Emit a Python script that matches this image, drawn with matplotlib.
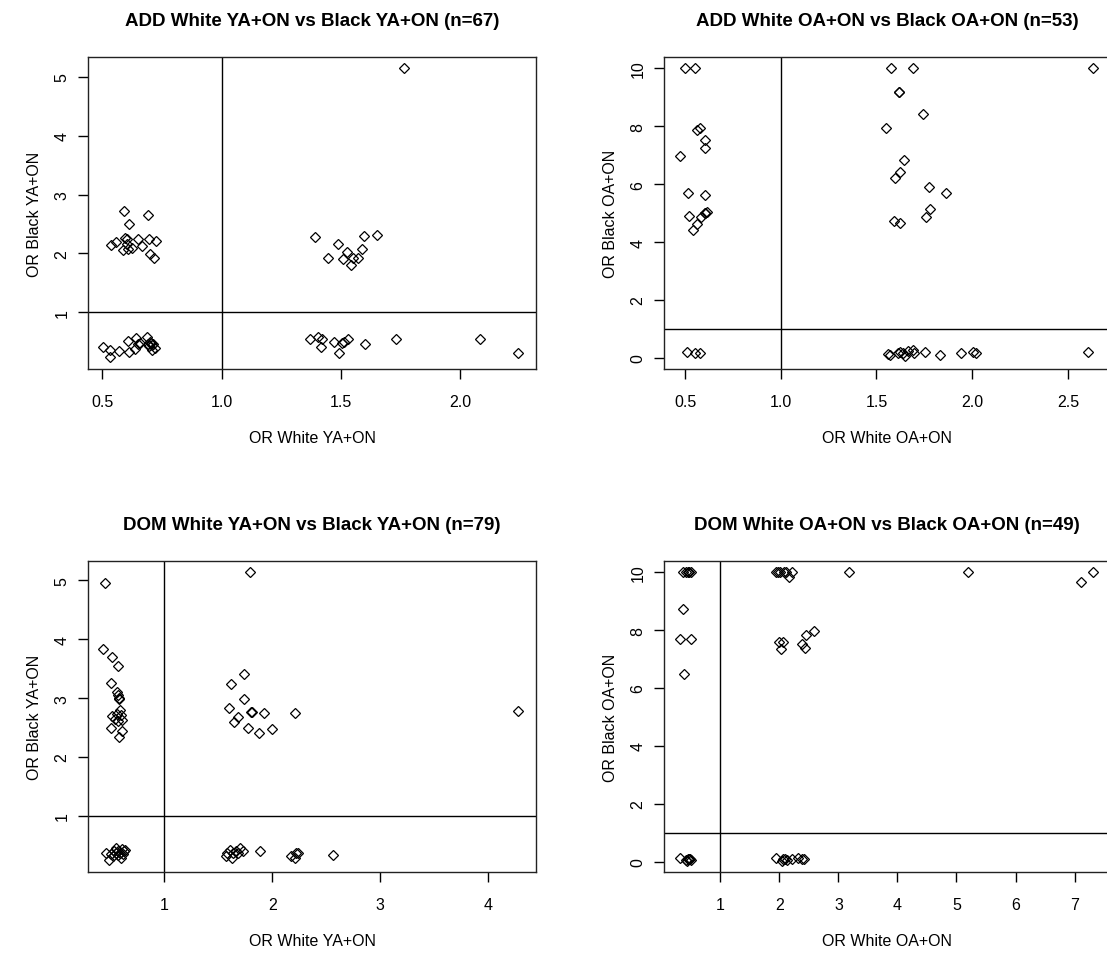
import numpy as np
import matplotlib
matplotlib.use("Agg")
import matplotlib.pyplot as plt

plt.rcParams['font.family'] = ['Liberation Sans', 'DejaVu Sans']

# ---- ADD, YA+ON (n=67) ----
add_ya_white = [0.591, 0.690, 0.613, 0.535, 0.559, 0.595, 0.605, 0.585, 0.609, 0.623,
                0.651, 0.668, 0.696, 0.724, 0.701, 0.718, 0.605,
                1.392, 1.486, 1.524, 1.447, 1.507, 1.541, 1.549, 1.570, 1.590, 1.595,
                1.651, 1.766,
                0.503, 0.531, 0.531, 0.570, 0.608, 0.613, 0.638, 0.643, 0.657, 0.686,
                0.692, 0.701, 0.713, 0.707, 0.720, 0.650, 0.696, 0.705, 0.710,
                1.370, 1.404, 1.422, 1.415, 1.473, 1.492, 1.504, 1.514, 1.531, 1.601,
                1.732, 2.083, 2.244]
add_ya_black = [2.725, 2.657, 2.500, 2.146, 2.190, 2.260, 2.240, 2.060, 2.080, 2.090,
                2.240, 2.120, 2.240, 2.210, 1.990, 1.920, 2.160,
                2.277, 2.160, 2.020, 1.920, 1.900, 1.810, 1.930, 1.920, 2.080, 2.300,
                2.320, 5.150,
                0.404, 0.365, 0.245, 0.342, 0.518, 0.319, 0.376, 0.557, 0.472, 0.575,
                0.461, 0.489, 0.461, 0.359, 0.387, 0.460, 0.420, 0.470, 0.450,
                0.540, 0.574, 0.540, 0.404, 0.500, 0.300, 0.478, 0.489, 0.540, 0.455,
                0.540, 0.540, 0.300]

# ---- ADD, OA+ON (n=53) ----
add_oa_white = [0.502, 0.552, 0.474, 0.563, 0.577, 0.606, 0.606, 0.516, 0.606, 0.523,
                0.544, 0.561, 0.584, 0.606, 0.613, 0.603,
                0.510, 0.552, 0.578,
                1.574, 1.689, 1.619, 1.617, 1.745, 1.548, 1.644, 1.623, 1.595, 1.772,
                1.863, 1.779, 1.758, 1.591, 1.624, 2.632,
                1.560, 1.571, 1.611, 1.623, 1.637, 1.651, 1.667, 1.689, 1.696, 1.753,
                1.833, 1.943, 2.002, 2.018, 2.604]
add_oa_black = [10.0, 10.0, 6.97, 7.88, 7.93, 7.52, 7.24, 5.71, 5.62, 4.90,
                4.42, 4.63, 4.85, 5.02, 5.05, 5.01,
                0.196, 0.161, 0.161,
                10.0, 10.0, 9.19, 9.19, 8.42, 7.93, 6.83, 6.43, 6.20, 5.89,
                5.71, 5.16, 4.85, 4.72, 4.67, 10.0,
                0.15, 0.10, 0.17, 0.20, 0.17, 0.08, 0.24, 0.26, 0.17, 0.20,
                0.10, 0.16, 0.22, 0.16, 0.21]

# ---- DOM, YA+ON (n=79) ----
dom_ya_white = [0.447, 0.432, 0.518, 0.567, 0.506, 0.564, 0.574, 0.577, 0.580, 0.518,
                0.586, 0.558, 0.601, 0.546, 0.571, 0.605, 0.506, 0.605, 0.577,
                0.456, 0.484, 0.509, 0.530, 0.549, 0.571, 0.586, 0.605, 0.623, 0.635,
                0.595, 0.574, 0.524, 0.555, 0.617,
                1.791, 1.741, 1.621, 1.741, 1.596, 1.683, 1.643, 1.803, 1.816, 1.927,
                1.779, 1.877, 1.995, 2.214, 4.278,
                1.568, 1.584, 1.605, 1.624, 1.636, 1.661, 1.683, 1.698, 1.729, 1.887,
                2.174, 2.211, 2.220, 2.242, 2.566]
dom_ya_black = [4.949, 3.837, 3.706, 3.548, 3.258, 3.099, 3.060, 2.997, 2.986, 2.702,
                2.793, 2.730, 2.719, 2.645, 2.617, 2.634, 2.498, 2.435, 2.339,
                0.364, 0.251, 0.347, 0.404, 0.450, 0.404, 0.376, 0.433, 0.404, 0.421,
                0.291, 0.330, 0.319, 0.364, 0.347,
                5.148, 3.406, 3.235, 2.986, 2.833, 2.680, 2.589, 2.759, 2.770, 2.742,
                2.498, 2.407, 2.475, 2.742, 2.787,
                0.319, 0.376, 0.421, 0.291, 0.364, 0.404, 0.376, 0.450, 0.404, 0.404,
                0.319, 0.279, 0.364, 0.364, 0.342]

# ---- DOM, OA+ON (n=49) ----
dom_oa_white = [0.374, 0.419, 0.447, 0.475, 0.498, 0.362, 0.317, 0.498, 0.391,
                0.317, 0.419, 0.447, 0.470, 0.487, 0.441, 0.498,
                1.937, 1.971, 2.010, 2.084, 2.106, 2.208, 2.163, 3.178, 5.187, 7.117,
                7.315, 1.993, 2.067, 2.027, 2.377, 2.428, 2.450, 2.580,
                1.937, 2.038, 2.067, 2.095, 2.123, 2.208, 2.315, 2.388, 2.417]
dom_oa_black = [10.0, 10.0, 10.0, 10.0, 10.0, 8.74, 7.70, 7.70, 6.47,
                0.15, 0.07, 0.115, 0.09, 0.115, 0.03, 0.08,
                10.0, 10.0, 10.0, 10.0, 10.0, 10.0, 9.82, 10.0, 10.0, 9.64,
                10.0, 7.58, 7.58, 7.34, 7.52, 7.37, 7.83, 7.97,
                0.15, 0.035, 0.09, 0.115, 0.07, 0.09, 0.15, 0.115, 0.09]

titles = ["ADD White YA+ON vs Black YA+ON (n=67)",
          "ADD White OA+ON vs Black OA+ON (n=53)",
          "DOM White YA+ON vs Black YA+ON (n=79)",
          "DOM White OA+ON vs Black OA+ON (n=49)"]
xlabels = ["OR White YA+ON", "OR White OA+ON", "OR White YA+ON", "OR White OA+ON"]
ylabels = ["OR Black YA+ON", "OR Black OA+ON", "OR Black YA+ON", "OR Black OA+ON"]
xticks = [[0.5, 1.0, 1.5, 2.0], [0.5, 1.0, 1.5, 2.0, 2.5], [1, 2, 3, 4], [1, 2, 3, 4, 5, 6, 7]]
xticklabels = [["0.5", "1.0", "1.5", "2.0"], ["0.5", "1.0", "1.5", "2.0", "2.5"],
               ["1", "2", "3", "4"], ["1", "2", "3", "4", "5", "6", "7"]]
yticks = [[1, 2, 3, 4, 5], [0, 2, 4, 6, 8, 10], [1, 2, 3, 4, 5], [0, 2, 4, 6, 8, 10]]

panels = [(add_ya_white, add_ya_black, (0.44, 2.318), (0.036, 5.34)),
          (add_oa_white, add_oa_black, (0.39, 2.72), (-0.38, 10.39)),
          (dom_ya_white, dom_ya_black, (0.293, 4.441), (0.047, 5.329)),
          (dom_oa_white, dom_oa_black, (0.046, 7.6), (-0.346, 10.38))]

W, H = 1107, 962
fig = plt.figure(figsize=(W / 100, H / 100), dpi=100)

# axes boxes in pixels: left, top, right, bottom
boxes = [(88, 58, 536, 370), (664, 58, 1110, 370),
         (88, 562, 536, 873), (664, 562, 1110, 873)]

for i, (xs, ys, xl, yl) in enumerate(panels):
    l, t, r, b = boxes[i]
    ax = fig.add_axes([l / W, 1 - b / H, (r - l) / W, (b - t) / H])
    ax.plot(xs, ys, linestyle='none', marker='D', markersize=4.9,
            markerfacecolor='none', markeredgecolor='black', markeredgewidth=0.9)
    ax.axhline(1, color='black', linewidth=1.0)
    ax.axvline(1, color='black', linewidth=1.0)
    ax.set_xlim(*xl)
    ax.set_ylim(*yl)
    ax.set_xticks(xticks[i])
    ax.set_xticklabels(xticklabels[i])
    ax.set_yticks(yticks[i])
    ax.tick_params(axis='both', length=7.2, width=1.0, labelsize=11.5, colors='black')
    ax.tick_params(axis='x', pad=11)
    ax.tick_params(axis='y', pad=6, labelrotation=90)
    for lab in ax.get_yticklabels():
        lab.set_verticalalignment('center')
    for sp in ax.spines.values():
        sp.set_linewidth(1.0)
        sp.set_color('#222222')
    ax.set_title(titles[i], fontsize=13.5, fontweight='bold', pad=23)
    ax.set_xlabel(xlabels[i], fontsize=11.5, labelpad=15)
    ax.set_ylabel(ylabels[i], fontsize=11.5, labelpad=9)

fig.savefig("out.png", dpi=100)
